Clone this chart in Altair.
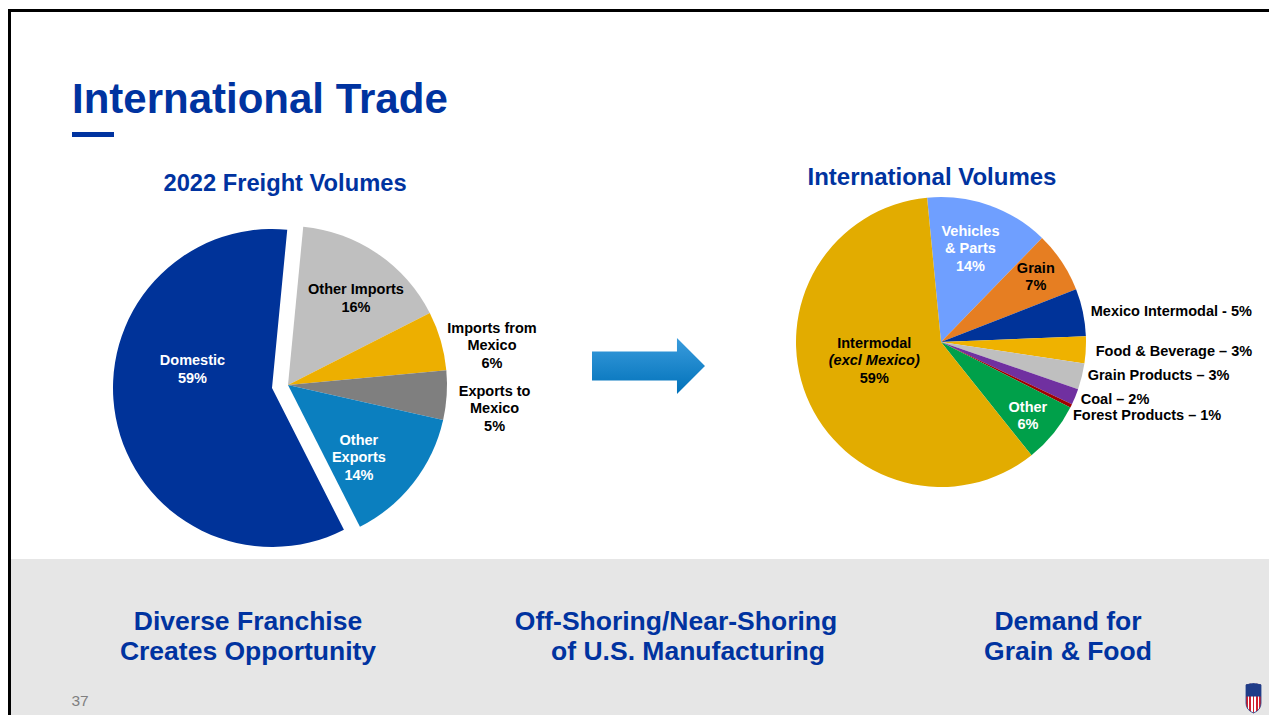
import math
import altair as alt
import pandas as pd

# ---------------- data ----------------
freight_categories = ["Other Imports", "Imports from Mexico", "Exports to Mexico", "Other Exports", "Domestic"]
freight_values = [16, 6, 5, 14, 59]
freight_labels = ["Other Imports\n16%", "Imports from\nMexico\n6%", "Exports to\nMexico\n5%",
                  "Other\nExports\n14%", "Domestic\n59%"]

intl_categories = ["Vehicles & Parts", "Grain", "Mexico Intermodal", "Food & Beverage", "Grain Products",
                   "Coal", "Forest Products", "Other", "Intermodal"]
intl_values = [13.8, 6.8, 5.3, 3.0, 2.9, 1.8, 0.4, 6.8, 59.2]
intl_labels = ["Vehicles\n& Parts\n14%", "Grain\n7%", "Mexico Intermodal - 5%", "Food & Beverage \u2013 3%",
               "Grain Products \u2013 3%", "Coal \u2013 2%", "Forest Products \u2013 1%", "Other\n6%",
               "Intermodal\n(excl Mexico)\n59%"]

slide_title = "International Trade"
left_title = "2022 Freight Volumes"
right_title = "International Volumes"
bottom_texts = [["Diverse Franchise", "Creates Opportunity"],
                ["Off-Shoring/Near-Shoring", "of U.S. Manufacturing"],
                ["Demand for", "Grain & Food"]]
page_number = "37"

# ---------------- styles ----------------
freight_colors = ["#BFBFBF", "#EDAF00", "#7F7F7F", "#0B7FBF", "#003399"]
intl_colors = ["#6F9FFF", "#E67E22", "#003399", "#EFB200", "#BFBFBF", "#7030A0", "#A00000", "#00A04A", "#E2AC00"]
color_scale = alt.Scale(domain=freight_categories + intl_categories, range=freight_colors + intl_colors)

FONT = "Liberation Sans"
BLUE = "#0033A0"
ONE = alt.Data(values=[{"a": 1}])


def pie_base(cats, vals, labels):
    df = pd.DataFrame({"order": list(range(len(cats))), "category": cats, "value": vals, "label": labels})
    return (alt.Chart(df)
            .transform_window(cum="sum(value)", sort=[alt.SortField("order")])
            .transform_calculate(start="datum.cum - datum.value", mid="datum.cum - datum.value / 2"))


def theta_scale(vals, start_deg):
    a0 = math.radians(start_deg)
    return alt.Scale(domain=[0, float(sum(vals))], range=[a0, a0 + 2 * math.pi], nice=False, zero=False)


def arc_layer(cats, vals, labels, start_deg, where, cx, cy, r):
    return (pie_base(cats, vals, labels).transform_filter(where)
            .mark_arc(radius=r)
            .encode(theta=alt.Theta("start:Q", scale=theta_scale(vals, start_deg), stack=False),
                    theta2="cum:Q",
                    color=alt.Color("category:N", scale=color_scale, legend=None),
                    x=alt.value(cx), y=alt.value(cy)))


def label_layers(cats, vals, labels, start_deg, layout):
    out = []
    for cat, lab in zip(cats, labels):
        R, dx, dy, align, color, cx, cy = layout[cat]
        lines = lab.split("\n")
        n = len(lines)
        for i, line in enumerate(lines):
            off = (i - (n - 1) / 2) * 17.5
            out.append(
                pie_base(cats, vals, labels)
                .transform_filter(f"datum.category == '{cat}'")
                .transform_calculate(line=f"split(datum.label, '\\n')[{i}]")
                .mark_text(dx=dx, dy=dy + off, align=align, baseline="middle", font=FONT, fontSize=14.5,
                           fontWeight="bold", fontStyle="italic" if line.startswith("(") else "normal",
                           color=color)
                .encode(theta=alt.Theta("mid:Q", scale=theta_scale(vals, start_deg), stack=False),
                        radius=alt.value(R), text="line:N", x=alt.value(cx), y=alt.value(cy)))
    return out


def txt(s, x, y, size, color=BLUE, weight="bold", align="center", baseline="alphabetic"):
    return (alt.Chart(alt.Data(values=[{"t": s}]))
            .mark_text(align=align, baseline=baseline, font=FONT, fontSize=size, fontWeight=weight, color=color)
            .encode(text="t:N", x=alt.value(x), y=alt.value(y)))


def rect(x, x2, y, y2, color):
    return (alt.Chart(ONE).mark_rect(color=color)
            .encode(x=alt.value(x), x2=alt.value(x2), y=alt.value(y), y2=alt.value(y2)))


# ---------------- left pie ----------------
LCX, LCY, LR = 280, 377, 159
DCX, DCY = 264, 380          # exploded "Domestic" slice
L_START = 5.5
left_layout = {
    "Other Imports":       (110, 6, 5, "center", "#000000", LCX, LCY),
    "Imports from Mexico": (205, 7, 18, "center", "#000000", LCX, LCY),
    "Exports to Mexico":   (205, 2, 11, "center", "#000000", LCX, LCY),
    "Other Exports":       (100, -8, 12, "center", "#FFFFFF", LCX, LCY),
    "Domestic":            (85, 4, -34, "center", "#FFFFFF", DCX, DCY),
}
left_pie = alt.layer(
    arc_layer(freight_categories, freight_values, freight_labels, L_START,
              "datum.category != 'Domestic'", LCX, LCY, LR),
    arc_layer(freight_categories, freight_values, freight_labels, L_START,
              "datum.category == 'Domestic'", DCX, DCY, LR),
    *label_layers(freight_categories, freight_values, freight_labels, L_START, left_layout),
)

# ---------------- right pie ----------------
RCX, RCY, RR = 933, 334, 145
R_START = -5.5
right_layout = {
    "Vehicles & Parts":  (95, -2, -3, "center", "#FFFFFF", RCX, RCY),
    "Grain":             (115, -1, -1, "center", "#000000", RCX, RCY),
    "Mexico Intermodal": (153, 0, 1, "left", "#000000", RCX, RCY),
    "Food & Beverage":   (155, 0, 2, "left", "#000000", RCX, RCY),
    "Grain Products":    (151, 0, -2, "left", "#000000", RCX, RCY),
    "Coal":              (151, 0, 1, "left", "#000000", RCX, RCY),
    "Forest Products":   (147, 0, 9, "left", "#000000", RCX, RCY),
    "Other":             (112, 0, 4, "center", "#FFFFFF", RCX, RCY),
    "Intermodal":        (72, 0, -8, "center", "#000000", RCX, RCY),
}
right_pie = alt.layer(
    arc_layer(intl_categories, intl_values, intl_labels, R_START, "true", RCX, RCY, RR),
    *label_layers(intl_categories, intl_values, intl_labels, R_START, right_layout),
)

# ---------------- decorations ----------------
arrow_path = "M-1,-0.257L0.504,-0.257L0.504,-0.496L1,0L0.504,0.496L0.504,0.257L-1,0.257Z"
arrow = (alt.Chart(ONE)
         .mark_point(shape=arrow_path, size=113 ** 2, filled=True, opacity=1, strokeWidth=0,
                     fill={"gradient": "linear", "x1": 0, "y1": 0, "x2": 0, "y2": 1,
                           "stops": [{"offset": 0, "color": "#3A9CDD"}, {"offset": 1, "color": "#0071B9"}]})
         .encode(x=alt.value(640.5), y=alt.value(358)))

stripe_stops = []
for k in range(9):
    c = "#D0202E" if k % 2 == 0 else "#FFFFFF"
    stripe_stops += [{"offset": k / 9, "color": c}, {"offset": (k + 1) / 9, "color": c}]
shield_path = "M-0.5,-0.88Q0,-1.05,0.5,-0.88L0.5,0.35Q0.5,0.8,0,1Q-0.5,0.8,-0.5,0.35Z"
shield_top = "M-0.5,-0.88Q0,-1.05,0.5,-0.88L0.5,-0.1L-0.5,-0.1Z"
LOGO_X, LOGO_Y = 1245.5, 690
logo = alt.layer(
    alt.Chart(ONE).mark_point(shape=shield_path, size=900, filled=True, opacity=1, stroke="#1F3C88",
                              strokeWidth=0.8,
                              fill={"gradient": "linear", "x1": 0, "y1": 0, "x2": 1, "y2": 0,
                                    "stops": stripe_stops})
    .encode(x=alt.value(LOGO_X), y=alt.value(LOGO_Y)),
    alt.Chart(ONE).mark_point(shape=shield_top, size=900, filled=True, opacity=1, color="#1F3C88")
    .encode(x=alt.value(LOGO_X), y=alt.value(LOGO_Y)),
)

decor_back = [
    rect(3, 1261, 551, 707, "#E6E6E6"),
    rect(0, 1261, 1, 4, "#000000"),
    rect(0, 3, 1, 707, "#000000"),
    txt(slide_title, 64, 105, 42, align="left"),
    rect(64, 106, 124, 129, BLUE),
    txt(left_title, 277, 183, 23.7),
    txt(right_title, 924, 177, 24),
    arrow,
]

bottom_pos = [[(240, 622), (240, 652)], [(668, 622), (680, 652)], [(1060, 622), (1060, 652)]]
decor_front = []
for lines, poss in zip(bottom_texts, bottom_pos):
    for line, (x, y) in zip(lines, poss):
        decor_front.append(txt(line, x, y, 26.5))
decor_front.append(txt(page_number, 72, 698, 15.5, color="#7F7F7F", weight="normal"))
decor_front.append(logo)

chart = (alt.layer(*decor_back, left_pie, right_pie, *decor_front)
         .resolve_scale(theta="independent")
         .properties(width=1261, height=707, autosize=alt.AutoSizeParams(type="none"), padding=0,
                     background="white")
         .configure_view(stroke=None))

chart.save("out.html", embed_options={"renderer": "svg", "actions": False})
